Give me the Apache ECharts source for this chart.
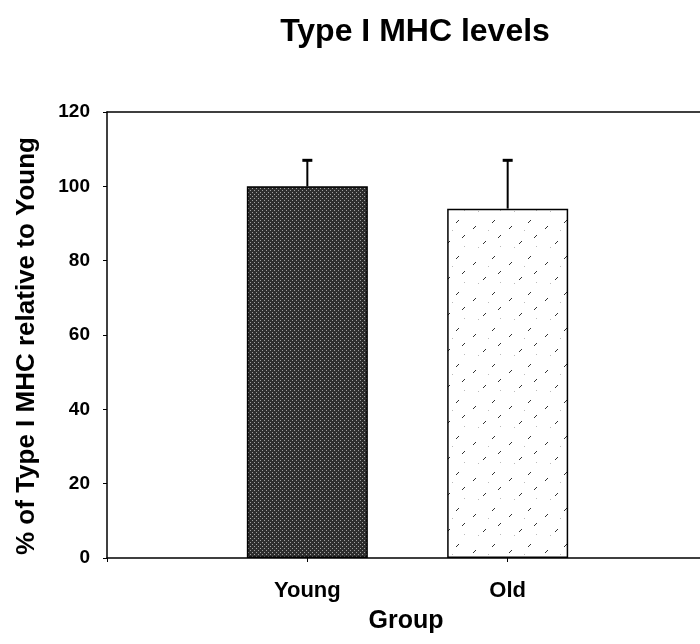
<!DOCTYPE html>
<html>
<head>
<meta charset="utf-8">
<script src="https://cdn.jsdelivr.net/npm/echarts@6/dist/echarts.min.js"></script>
<style>
  html, body { margin: 0; padding: 0; background: #fff; }
  #chart { width: 700px; height: 644px; }
</style>
</head>
<body>
<div id="chart"></div>
<script>
  // data
  var groups = ['Young', 'Old'];
  var groupPos = [1, 2];
  var means = [100, 94];
  var errUp = [7, 13];
  var yTicks = [0, 20, 40, 60, 80, 100, 120];

  var FONT = 'Liberation Sans, Arial, sans-serif';

  // dark stipple for Young
  function makeDark() {
    var c = document.createElement('canvas');
    c.width = 4; c.height = 4;
    var g = c.getContext('2d');
    g.fillStyle = '#2e2e2e';
    g.fillRect(0, 0, 4, 4);
    g.fillStyle = '#a0a0a0';
    g.fillRect(0, 0, 1, 1);
    g.fillRect(2, 2, 1, 1);
    return c;
  }
  // sparse diagonal dashes for Old
  function makeLight() {
    var c = document.createElement('canvas');
    c.width = 36; c.height = 36;
    var g = c.getContext('2d');
    g.fillStyle = '#ffffff';
    g.fillRect(0, 0, 36, 36);
    g.strokeStyle = '#333';
    g.lineWidth = 1;
    var segs = [[5, 10], [24, 4], [15, 25], [30, 19]];
    segs.forEach(function (s) {
      g.beginPath();
      g.moveTo(s[0], s[1] + 3);
      g.lineTo(s[0] + 3, s[1]);
      g.stroke();
    });
    g.fillStyle = '#bbb';
    g.fillRect(10, 31, 1, 1);
    g.fillRect(32, 30, 1, 1);
    g.fillRect(20, 14, 1, 1);
    return c;
  }

  var fills = [
    { image: makeDark(), repeat: 'repeat' },
    { image: makeLight(), repeat: 'repeat' }
  ];

  var barData = groups.map(function (g, i) {
    return {
      value: [groupPos[i], means[i]],
      itemStyle: { color: fills[i] }
    };
  });
  var errData = groups.map(function (g, i) {
    return [groupPos[i], means[i], means[i] + errUp[i]];
  });

  var chart = echarts.init(document.getElementById('chart'));
  var option = {
    animation: false,
    title: {
      text: 'Type I MHC levels',
      left: 410,
      textAlign: 'center',
      top: 11,
      textStyle: { fontFamily: FONT, fontSize: 32, fontWeight: 'bold', color: '#000' }
    },
    grid: {
      left: 107, top: 112, right: 0, bottom: 86,
      containLabel: false
    },
    xAxis: [{
      type: 'value',
      min: 0, max: 2.96, interval: 1,
      name: 'Group',
      nameLocation: 'middle',
      nameGap: 51,
      nameTextStyle: { fontFamily: FONT, fontSize: 25, fontWeight: 'bold', color: '#000', padding: [0, 0, 0, 5] },
      axisLine: { lineStyle: { color: '#000', width: 1.5 } },
      axisTick: { show: true, length: 4, lineStyle: { color: '#000' } },
      splitLine: { show: false },
      axisLabel: {
        margin: 22,
        showMaxLabel: false,
        fontFamily: FONT, fontSize: 22, fontWeight: 'bold', color: '#000',
        formatter: function (v) {
          var k = groupPos.indexOf(v);
          return k >= 0 ? groups[k] : '';
        }
      }
    }, {
      // top frame line
      type: 'value',
      position: 'top',
      min: 0, max: 2.96,
      axisLine: { show: true, onZero: false, lineStyle: { color: '#000', width: 1.5 } },
      axisTick: { show: false },
      axisLabel: { show: false },
      splitLine: { show: false }
    }],
    yAxis: {
      type: 'value',
      min: yTicks[0], max: yTicks[yTicks.length - 1], interval: 20,
      name: '% of Type I MHC relative to Young',
      nameLocation: 'middle',
      nameGap: 67,
      nameTextStyle: { fontFamily: FONT, fontSize: 26, fontWeight: 'bold', color: '#000', padding: [0, 22, 0, 0] },
      axisLine: { show: true, lineStyle: { color: '#000', width: 1.5 } },
      axisTick: { show: true, length: 4, lineStyle: { color: '#000' } },
      splitLine: { show: false },
      axisLabel: {
        margin: 17,
        fontFamily: FONT, fontSize: 19, fontWeight: 'bold', color: '#000'
      }
    },
    series: [
      {
        type: 'bar',
        barWidth: 121,
        data: barData,
        itemStyle: { borderColor: '#000', borderWidth: 1.5 },
        z: 2
      },
      {
        type: 'custom',
        z: 3,
        data: errData,
        renderItem: function (params, api) {
          var x = api.value(0);
          var lo = api.coord([x, api.value(1)]);
          var hi = api.coord([x, api.value(2)]);
          var half = 5;
          var st = { stroke: '#000', lineWidth: 2 };
          return {
            type: 'group',
            children: [
              { type: 'line', shape: { x1: lo[0], y1: lo[1], x2: hi[0], y2: hi[1] }, style: st },
              { type: 'line', shape: { x1: hi[0] - half, y1: hi[1], x2: hi[0] + half, y2: hi[1] }, style: { stroke: '#000', lineWidth: 3 } }
            ]
          };
        }
      }
    ]
  };
  chart.setOption(option);
</script>
</body>
</html>
